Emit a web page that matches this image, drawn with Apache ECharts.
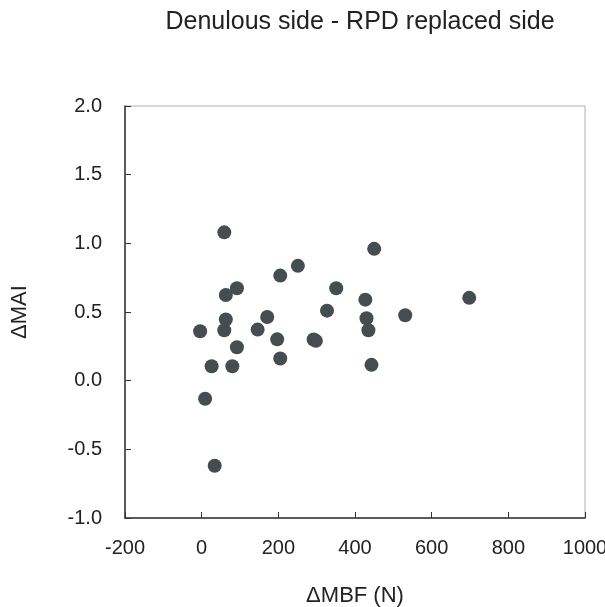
<!DOCTYPE html>
<html><head><meta charset="utf-8">
<script src="https://cdn.jsdelivr.net/npm/echarts@6/dist/echarts.min.js"></script>
<style>html,body{margin:0;padding:0;background:#fff}#c{width:605px;height:607px}</style>
</head><body><div id="c"></div>
<script>
const titleText = "Denulous side - RPD replaced side";
const xName = "ΔMBF (N)";
const yName = "ΔMAI";
const deltaMBF = [59, 450, 251, 205, 92, 63, 351, 427, 327, 171, 63, 430, 59, -4, 146, 435, 197, 292, 298, 92, 205, 26, 80, 443, 9, 34, 531, 698];
const deltaMAI = [1.08, 0.96, 0.836, 0.765, 0.673, 0.624, 0.673, 0.59, 0.51, 0.464, 0.445, 0.454, 0.367, 0.36, 0.372, 0.367, 0.301, 0.30, 0.29, 0.243, 0.161, 0.105, 0.105, 0.115, -0.132, -0.62, 0.476, 0.603];
const xTicks = [-200, 0, 200, 400, 600, 800, 1000];
const yTicks = [-1.0, -0.5, 0.0, 0.5, 1.0, 1.5, 2.0];

const pts = deltaMBF.map((x, i) => [x, deltaMAI[i]]);
const font = 'Liberation Sans, Arial, sans-serif';
const chart = echarts.init(document.getElementById('c'), null, {renderer: 'canvas'});
chart.setOption({
  animation: false,
  title: {text: titleText, left: 355, textAlign: 'center', top: 5, textStyle: {fontFamily: font, fontSize: 25, fontWeight: 'normal', color: '#222'}},
  grid: {left: 125, right: 20, top: 106, bottom: 89, outerBoundsMode: 'none', containLabel: false, show: true, borderColor: '#a9b0b6', borderWidth: 1, backgroundColor: 'transparent'},
  xAxis: {
    type: 'value', min: xTicks[0], max: xTicks[xTicks.length - 1], interval: 200,
    name: xName, nameLocation: 'middle', nameGap: 67,
    nameTextStyle: {fontFamily: font, fontSize: 22, color: '#222'},
    axisLine: {onZero: false, lineStyle: {color: '#333', width: 1.5}},
    axisTick: {inside: true, length: 6, lineStyle: {color: '#333'}},
    axisLabel: {fontFamily: font, fontSize: 20, color: '#222', margin: 20, formatter: v => String(v)},
    splitLine: {show: false}
  },
  yAxis: {
    type: 'value', min: yTicks[0], max: yTicks[yTicks.length - 1], interval: 0.5,
    name: yName, nameLocation: 'middle', nameGap: 94, nameRotate: 90,
    nameTextStyle: {fontFamily: font, fontSize: 22, color: '#222'},
    axisLine: {onZero: false, lineStyle: {color: '#333', width: 1.5}},
    axisTick: {inside: true, length: 6, lineStyle: {color: '#333'}},
    axisLabel: {fontFamily: font, fontSize: 20, color: '#222', margin: 23, formatter: v => v.toFixed(1)},
    splitLine: {show: false}
  },
  series: [{
    type: 'scatter', data: pts, symbolSize: 14,
    itemStyle: {color: '#454d50', opacity: 1}
  }]
});
</script></body></html>
